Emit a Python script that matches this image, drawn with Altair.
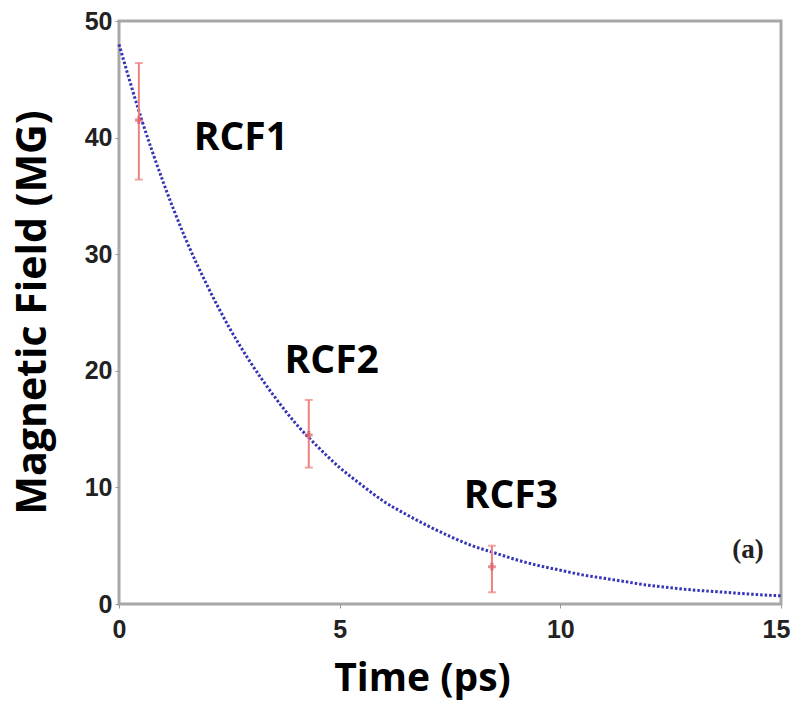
import altair as alt
import pandas as pd

# Fitted decay curve of the magnetic field (MG) against time (ps)
curve_t = [0, 0.5, 1, 1.5, 2, 2.5, 3, 3.5, 4, 4.5, 5, 5.5, 6, 6.5, 7, 7.5,
           8, 8.5, 9, 9.5, 10, 10.5, 11, 11.5, 12, 12.5, 13, 13.5, 14, 14.5, 15]
curve_b = [48.0, 41.7, 36.2, 31.4, 27.3, 23.7, 20.6, 17.9, 15.5, 13.5, 11.7,
           10.2, 8.8, 7.7, 6.7, 5.8, 5.0, 4.4, 3.8, 3.3, 2.9, 2.5, 2.2, 1.9,
           1.6, 1.4, 1.2, 1.07, 0.93, 0.8, 0.7]

# Measured fields from the three RCF layers, with error bars
meas_label = ["RCF1", "RCF2", "RCF3"]
meas_t = [0.45, 4.3, 8.45]
meas_b = [41.5, 14.5, 3.2]
meas_lo = [36.4, 11.7, 1.0]
meas_hi = [46.4, 17.5, 5.0]
label_t = [2.76, 4.82, 8.88]
label_b = [40.0, 20.8, 9.3]

curve_df = pd.DataFrame({"t": curve_t, "b": curve_b})
meas_df = pd.DataFrame({"t": meas_t, "b": meas_b, "lo": meas_lo, "hi": meas_hi})
label_df = pd.DataFrame({"t": label_t, "b": label_b, "name": meas_label})
panel_df = pd.DataFrame({"t": [14.25], "b": [4.6], "name": ["(a)"]})

Y_TITLE = "Magnetic Field (MG)"
TICK_FONT = "Liberation Sans"

x_scale = alt.Scale(domain=[0, 15], nice=False, zero=False)
y_scale = alt.Scale(domain=[0, 50], nice=False, zero=False)

# keep the last x label inside the page edge
last_label_offset = {"condition": {"test": "datum.value == 15", "value": -5}, "value": 0}

x_enc = alt.X("t:Q", scale=x_scale, title="Time (ps)",
              axis=alt.Axis(values=[0, 5, 10, 15], grid=False, domain=False,
                            tickSize=4, tickColor="#999999", labelFont=TICK_FONT,
                            labelFontWeight="bold", labelFontSize=25, labelColor="#222222",
                            labelPadding=9, labelFlush=False, labelOffset=last_label_offset,
                            titleFont="Open Sans", titleFontSize=39, titleFontWeight="bold",
                            titleColor="#000000", titleX=303, titleY=55,
                            titleBaseline="top"))
y_enc = alt.Y("b:Q", scale=y_scale, title=Y_TITLE,
              axis=alt.Axis(values=[0, 10, 20, 30, 40, 50], grid=False, domain=False,
                            tickSize=4, tickColor="#999999", labelFont=TICK_FONT,
                            labelFontWeight="bold", labelFontSize=25, labelColor="#222222",
                            labelPadding=3, labelFlush=False,
                            titleFont="Open Sans", titleFontSize=41, titleFontWeight="bold",
                            titleColor="#000000", titleX=-74, titleY=291,
                            titleAngle=270, titleBaseline="alphabetic"))

line = alt.Chart(curve_df).mark_line(
    color="#3535b8", strokeWidth=3, strokeDash=[2.5, 2], interpolate="monotone"
).encode(x=x_enc, y=y_enc)

bars = alt.Chart(meas_df).mark_errorbar(
    color="#ee8080", thickness=2, ticks=alt.MarkConfig(size=8, color="#ee8080")
).encode(x="t:Q", y=alt.Y("lo:Q", scale=y_scale, title=Y_TITLE), y2="hi:Q")

points = alt.Chart(meas_df).mark_point(
    shape="cross", size=60, color="#d85868", filled=True
).encode(x="t:Q", y=alt.Y("b:Q", title=Y_TITLE))

labels = alt.Chart(label_df).mark_text(
    font="Open Sans", fontWeight="bold", fontSize=39, color="#000000"
).encode(x="t:Q", y=alt.Y("b:Q", title=Y_TITLE), text="name:N")

panel = alt.Chart(panel_df).mark_text(
    font="Liberation Serif", fontWeight="bold", fontSize=27, color="#222222"
).encode(x="t:Q", y=alt.Y("b:Q", title=Y_TITLE), text="name:N")

chart = alt.layer(line, bars, points, labels, panel).properties(
    width=662, height=583,
    autosize=alt.AutoSizeParams(type="none"),
    padding={"left": 119, "top": 21, "right": 11, "bottom": 100},
    background="white",
).configure_view(stroke="#a8a8a8", strokeWidth=3)

chart.save("out.html", embed_options={"renderer": "svg", "actions": False})
